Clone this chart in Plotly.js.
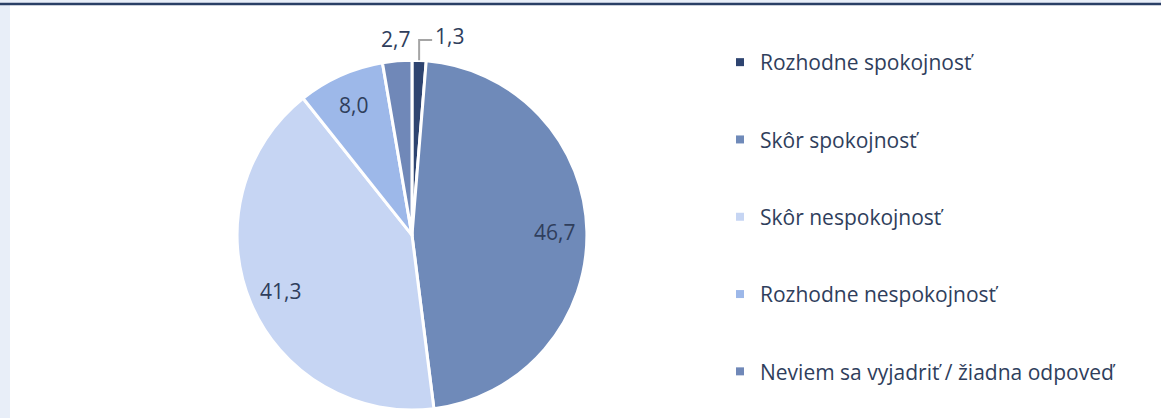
<!DOCTYPE html>
<html>
<head>
<meta charset="utf-8">
<script src="https://cdn.plot.ly/plotly-3.0.1.min.js"></script>
<style>html,body{margin:0;padding:0;background:#fff;}#chart{width:1161px;height:418px;}</style>
</head>
<body>
<div id="chart"></div>
<script>
var categories = ['Rozhodne spokojnosť', 'Skôr spokojnosť', 'Skôr nespokojnosť', 'Rozhodne nespokojnosť', 'Neviem sa vyjadriť / žiadna odpoveď'];
var values = [1.3, 46.7, 41.3, 8.0, 2.7];
var valueLabels = ['1,3', '46,7', '41,3', '8,0', '2,7'];
var labelPlacement = ['callout', 'inside', 'inside', 'inside', 'outside'];
var colors = ['#2E4470', '#6F8AB9', '#C6D5F3', '#9DB8E9', '#7088B8'];
var textColor = '#2F3E5C';
var fontFamily = '"Open Sans", "Noto Sans", sans-serif';

var W = 1161, H = 418;
var dom = {x: [0.2041, 0.5056], y: [0.019, 0.856]};

var traces = [{
  type: 'pie',
  labels: categories,
  values: values,
  text: valueLabels,
  textinfo: 'none',
  sort: false,
  direction: 'clockwise',
  rotation: 0,
  marker: {colors: colors, line: {color: '#ffffff', width: 3}},
  showlegend: false,
  hoverinfo: 'label+text',
  domain: dom
}];

categories.forEach(function (c, i) {
  traces.push({
    type: 'scatter', mode: 'markers', x: [null], y: [null],
    name: c, legendgroup: 'g' + i,
    marker: {symbol: 'square', size: 8, color: colors[i]},
    showlegend: true, hoverinfo: 'skip'
  });
});

// pie geometry in pixels (derived from the domain)
var cx = (dom.x[0] + dom.x[1]) / 2 * W;
var cy = (1 - (dom.y[0] + dom.y[1]) / 2) * H;
var R = Math.min((dom.x[1] - dom.x[0]) * W, (dom.y[1] - dom.y[0]) * H) / 2;
function px(x) { return x / W; }
function py(y) { return 1 - y / H; }

var total = values.reduce(function (a, b) { return a + b; }, 0);
var annotations = [];
var shapes = [
  {type: 'rect', xref: 'paper', yref: 'paper', x0: 0, x1: 1, y0: 1 - 3/H, y1: 1, fillcolor: '#E8EEF8', line: {width: 0}, layer: 'below'},
  {type: 'rect', xref: 'paper', yref: 'paper', x0: 0, x1: 10/W, y0: 0, y1: 1 - 5/H, fillcolor: '#E8EEF8', line: {width: 0}, layer: 'below'},
  {type: 'line', xref: 'paper', yref: 'paper', x0: 0, x1: 1, y0: 1 - 4/H, y1: 1 - 4/H, line: {color: '#2A3F66', width: 2.5}}
];
var cum = 0;
values.forEach(function (v, i) {
  var mid = (cum + v / 2) / total * 2 * Math.PI;
  cum += v;
  var sx = Math.sin(mid), sy = -Math.cos(mid);
  var font = {family: fontFamily, size: 21, color: textColor};
  if (labelPlacement[i] === 'inside') {
    annotations.push({xref: 'paper', yref: 'paper', x: px(cx + sx * R * 0.815), y: py(cy + sy * R * 0.815),
      text: valueLabels[i], showarrow: false, font: font, xanchor: 'center', yanchor: 'middle'});
  } else if (labelPlacement[i] === 'outside') {
    annotations.push({xref: 'paper', yref: 'paper', x: px(cx + sx * R * 1.125), y: py(cy + sy * R * 1.125),
      text: valueLabels[i], showarrow: false, font: font, xanchor: 'center', yanchor: 'middle'});
  } else {
    var ex = cx + sx * R, ey = cy + sy * R;
    var topY = cy - R * 1.115;
    var hx = ex + 13;
    shapes.push({type: 'path', xref: 'paper', yref: 'paper',
      path: 'M' + px(ex) + ',' + py(ey) + ' L' + px(ex) + ',' + py(topY) + ' L' + px(hx) + ',' + py(topY),
      line: {color: '#A5A5A5', width: 2}});
    annotations.push({xref: 'paper', yref: 'paper', x: px(hx + 1), y: py(topY - 4),
      text: valueLabels[i], showarrow: false, font: font, xanchor: 'left', yanchor: 'middle'});
  }
});

var layout = {
  width: W, height: H,
  margin: {l: 0, r: 0, t: 0, b: 0},
  paper_bgcolor: '#ffffff',
  plot_bgcolor: 'rgba(0,0,0,0)',
  showlegend: true,
  xaxis: {visible: false, domain: [0.99, 1]},
  yaxis: {visible: false, domain: [0.99, 1]},
  legend: {
    x: 720 / W, y: 1 - 42 / H, xanchor: 'left', yanchor: 'top',
    font: {family: fontFamily, size: 21, color: textColor},
    tracegroupgap: 47, itemwidth: 30,
    bgcolor: 'rgba(0,0,0,0)'
  },
  shapes: shapes,
  annotations: annotations
};

Plotly.newPlot('chart', traces, layout, {displayModeBar: false, staticPlot: true});
</script>
</body>
</html>
